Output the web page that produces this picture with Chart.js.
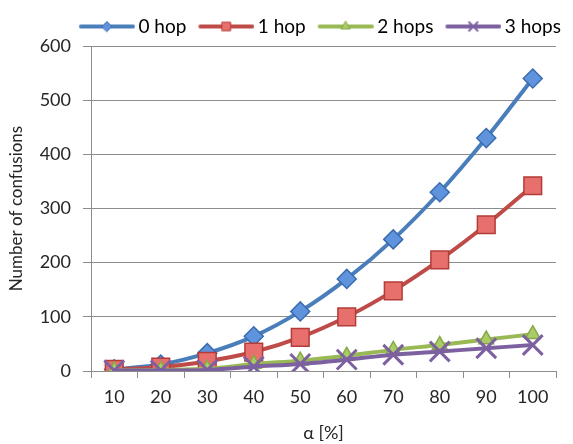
<!DOCTYPE html>
<html>
<head>
<meta charset="utf-8">
<script src="https://cdn.jsdelivr.net/npm/chart.js@4"></script>
<style>
  html, body { margin: 0; padding: 0; background: #fff; }
  #wrap { width: 573px; height: 444px; }
</style>
</head>
<body>
<div id="wrap"><canvas id="chart" width="573" height="444"></canvas></div>
<script>
// data
var alphaLabels = ["10", "20", "30", "40", "50", "60", "70", "80", "90", "100"];
var hop0 = [3, 12, 33, 64, 110, 170, 243, 330, 430, 540];
var hop1 = [3, 7, 18, 35, 62, 100, 148, 205, 270, 342];
var hop2 = [1, 2, 4, 13, 19, 28, 39, 48, 58, 68];
var hop3 = [1, 1, 2, 8, 13, 21, 30, 36, 42, 48];
var yTicks = [0, 100, 200, 300, 400, 500, 600];

var gridColor = '#8c8c8c';
var textColor = '#262626';
Chart.defaults.font.family = 'Lato, "Open Sans", sans-serif';

// little line+marker picture for the legend
// (62 wide, centred on a 50 wide box, so the line sits 6px left and ends near the text)
function legendIcon(line, fill, border, style, radius, bw) {
    var c = document.createElement('canvas');
    c.width = 62; c.height = 20;
    var g = c.getContext('2d');
    g.strokeStyle = line;
    g.lineWidth = 4;
    g.lineCap = 'round';
    g.beginPath(); g.moveTo(8, 10); g.lineTo(60, 10); g.stroke();
    g.fillStyle = fill;
    g.strokeStyle = border;
    g.lineWidth = bw;
    Chart.helpers.drawPoint(g, {pointStyle: style, radius: radius, rotation: 0, borderWidth: bw}, 34, 10);
    return c;
}

var series = [
    {label: '0 hop', data: hop0, line: '#4a7ebb', fill: '#5f93dc', border: '#3b6cb0', style: 'rectRot', r: 9.5, bw: 1.5, lr: 5, order: 3},
    {label: '1 hop', data: hop1, line: '#be4b48', fill: '#e8706c', border: '#b33c39', style: 'rect', r: 12.5, bw: 1.5, lr: 6, order: 2},
    {label: '2 hops', data: hop2, line: '#98b954', fill: '#a9cc66', border: '#86a847', style: 'triangle', r: 8.5, bw: 1.5, lr: 5, order: 1},
    {label: '3 hops', data: hop3, line: '#7d60a0', fill: '#7d60a0', border: '#7d60a0', style: 'crossRot', r: 14, bw: 3, lr: 6, order: 0}
];

var datasets = series.map(function (s) {
    return {
        label: s.label,
        data: s.data,
        borderColor: s.line,
        backgroundColor: s.fill,
        borderWidth: 4,
        tension: 0.3,
        pointStyle: s.style,
        pointRadius: s.r,
        pointHoverRadius: s.r,
        pointBackgroundColor: s.fill,
        pointBorderColor: s.border,
        pointBorderWidth: s.bw,
        order: s.order,
        legendIcon: legendIcon(s.line, s.fill, s.border, s.style, s.lr, s.style === 'crossRot' ? 2 : 1)
    };
});

var ctx = document.getElementById('chart').getContext('2d');
var chart = new Chart(ctx, {
    type: 'line',
    data: {
        labels: alphaLabels,
        datasets: datasets
    },
    options: {
        responsive: false,
        animation: false,
        layout: { padding: 0 },
        plugins: {
            tooltip: { enabled: false },
            legend: {
                position: 'top',
                align: 'end',
                labels: {
                    usePointStyle: true,
                    pointStyleWidth: 50,
                    padding: 12,
                    color: '#000',
                    font: { size: 19 },
                    sort: function (a, b) { return a.datasetIndex - b.datasetIndex; },
                    generateLabels: function (chart) {
                        return chart.data.datasets.map(function (ds, i) {
                            return {
                                text: ds.label,
                                pointStyle: ds.legendIcon,
                                fillStyle: ds.backgroundColor,
                                strokeStyle: ds.borderColor,
                                lineWidth: 0,
                                datasetIndex: i,
                                hidden: false
                            };
                        });
                    }
                }
            }
        },
        scales: {
            x: {
                offset: true,
                grid: {
                    offset: true,
                    drawOnChartArea: false,
                    drawTicks: true,
                    tickLength: 7,
                    color: gridColor
                },
                border: { display: true, color: gridColor, width: 1 },
                ticks: { color: textColor, font: { size: 18 }, padding: 8, maxRotation: 0 },
                title: {
                    display: true,
                    text: 'α [%]',
                    color: textColor,
                    font: { size: 18 },
                    padding: { top: 0, bottom: 0 }
                },
                afterFit: function (scale) {
                    scale.height = 73;
                    scale.paddingRight = 6;
                }
            },
            y: {
                min: 0,
                max: 600,
                afterBuildTicks: function (scale) {
                    scale.ticks = yTicks.map(function (v) { return {value: v}; });
                },
                grid: {
                    color: gridColor,
                    drawTicks: true,
                    tickLength: 8
                },
                border: { display: true, color: gridColor, width: 1 },
                ticks: { color: textColor, font: { size: 18 }, padding: 12 },
                title: {
                    display: true,
                    text: 'Number of confusions',
                    color: textColor,
                    font: { size: 17 },
                    padding: { top: 6, bottom: 0 }
                },
                afterFit: function (scale) {
                    scale.width = 91;
                    scale.paddingTop = 46;
                }
            }
        }
    }
});
</script>
</body>
</html>
